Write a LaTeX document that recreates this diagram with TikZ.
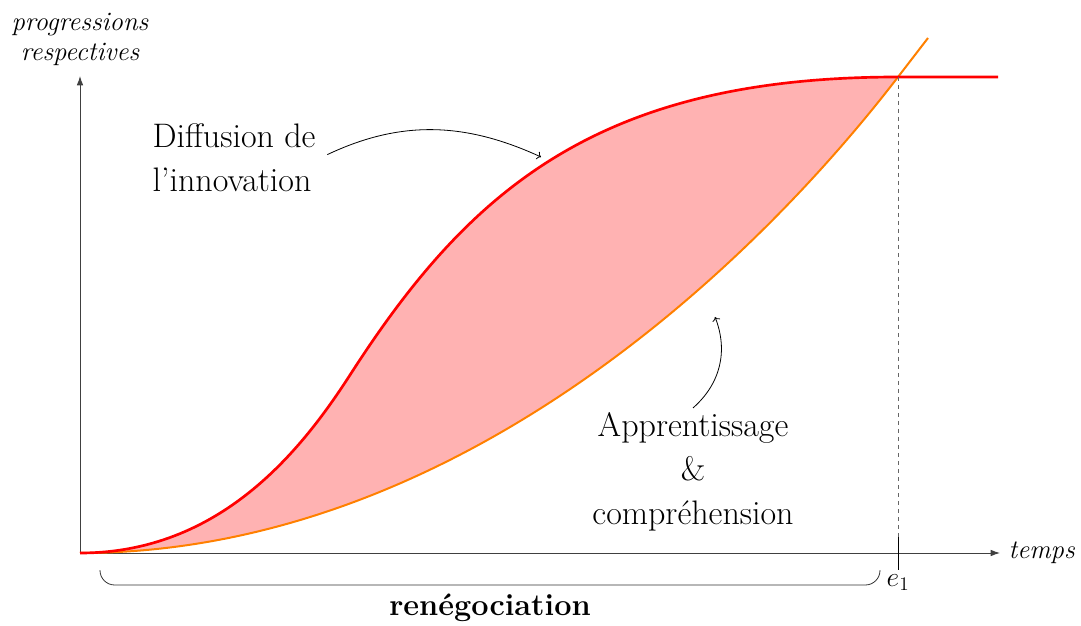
\documentclass[tikz,border=0pt]{standalone}
\usepackage{fontspec}
\usetikzlibrary{arrows.meta, positioning}
\tikzset{
	axe/.style={draw=black!75, line width=0.75pt, -{Latex[length=7pt,width=5pt]}},
	grand/.style={font=\fontsize{25.5}{33}\selectfont},
	axelabel/.style={font=\fontsize{20}{22.5}\selectfont\itshape},
	annot/.style={->, line width=0.6pt},
}

\begin{document}
\begin{tikzpicture}[x=0.75pt, y=0.75pt]
	\useasboundingbox (0,0) rectangle (1081,625);
	\coordinate (O) at (80,72);
	\coordinate (xend) at (1000,72);
	\coordinate (yend) at (80,549);
	\coordinate (P) at (350,250);
	\coordinate (M) at (898,548);
	\coordinate (E) at (898,72);
	% zone between the two curves
	\fill[red!30] (O) .. controls (220,72) and (301,174) .. (P) .. controls (469,435) and (598,548) .. (M)
		.. controls (748,353) and (450,72) .. (O);
	% axes
	\draw[axe] (O) -- (xend);
	\draw[axe] (O) -- (yend);
	\node[axelabel, right=3pt of xend] (temps) {temps};
	\node[axelabel, above=4pt of yend, align=center] (prog) {progressions\\respectives};
	% curves
	\draw[orange, line width=1.5pt] (O) .. controls (450,72) and (748,353) .. (M) -- (928,587);
	\draw[red, line width=2pt] (O) .. controls (220,72) and (301,174) .. (P) .. controls (469,435) and (598,548) .. (M) -- (998,548);
	% e1
	\draw[dashed, black!60, line width=0.5pt] (M) -- (E);
	\coordinate (t1) at (898,88);
	\coordinate (t2) at (898,55);
	\draw[line width=0.6pt] (t1) -- (t2);
	\node[below=0pt of t2, font=\fontsize{20}{24}\selectfont] (e1) {$e_1$};
	% labels and arrows
	\node[grand, align=left] (diff) at (234,467) {Diffusion de\\l’innovation};
	\coordinate (dtip) at (541,468);
	\draw[annot, shorten <=6pt] (diff.east) to[bend left=25] (dtip);
	\node[grand, align=center] (app) at (693,153) {Apprentissage\\\&\\compréhension};
	\coordinate (atip) at (715,308);
	\draw[annot] (app.north) to[bend right=35] (atip);
	% brace
	\coordinate (bl) at (100,55);
	\coordinate (br) at (880,55);
	\draw[black!80, line width=0.6pt, rounded corners=11pt] (bl) |- (490,40) -| (br);
	\node[font=\fontsize{23}{28}\selectfont\bfseries] (reneg) at (490,17) {renégociation};
\end{tikzpicture}
\end{document}
